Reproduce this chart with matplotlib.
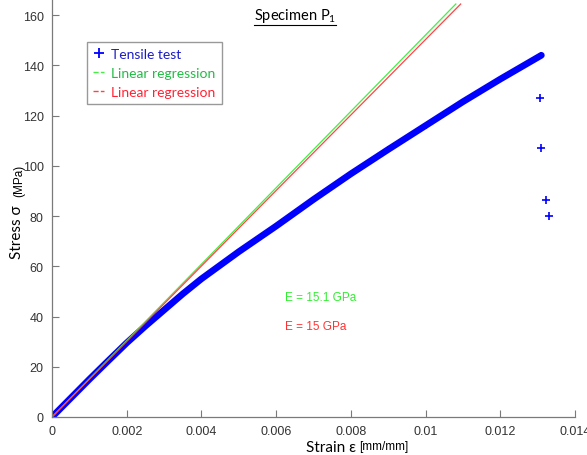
import matplotlib
matplotlib.use("Agg")
import matplotlib.pyplot as plt
from matplotlib.lines import Line2D

# tensile test curve (strain mm/mm, stress MPa)
strain = [0, 0.0005, 0.001, 0.0015, 0.002, 0.0025, 0.003, 0.0035, 0.004, 0.005,
          0.006, 0.007, 0.008, 0.009, 0.010, 0.011, 0.012, 0.0131]
stress = [0, 7.5, 15, 22.3, 29.5, 36.2, 42.6, 49, 55, 65.8,
          76, 86.6, 96.8, 106.5, 116, 125.5, 134.5, 144]
# points after failure
fail_strain = [0.01306, 0.01309, 0.01322, 0.01330]
fail_stress = [127, 107, 86.4, 80]

# linear regression lines (end points)
reg_green_x = [0, 0.01081]
reg_green_y = [0, 164.4]
reg_red_x = [0, 0.01094]
reg_red_y = [0, 164.4]

W, H = 587, 456
fig = plt.figure(figsize=(W / 100, H / 100), dpi=100)
ax = fig.add_axes([52 / W, 38 / H, 523 / W, 417 / H])

blue = "#0000ff"
green = "#44ee44"
red = "#ff4444"

ax.plot(strain, stress, color=blue, linewidth=4.8, solid_capstyle="round",
        solid_joinstyle="round", marker="+", markersize=4.5, markeredgewidth=1.1)
ax.plot(fail_strain, fail_stress, linestyle="none", color=blue, marker="+",
        markersize=6, markeredgewidth=1.2)
ax.plot(reg_green_x, reg_green_y, color=green, linewidth=0.9)
ax.plot(reg_red_x, reg_red_y, color=red, linewidth=0.9)

ax.set_xlim(0, 0.014)
ax.set_ylim(0, 166)
ax.set_xticks([0, 0.002, 0.004, 0.006, 0.008, 0.01, 0.012, 0.014])
ax.set_xticklabels(["0", "0.002", "0.004", "0.006", "0.008", "0.01", "0.012", "0.014"])
ax.set_yticks([0, 20, 40, 60, 80, 100, 120, 140, 160])

for s in ["top", "right"]:
    ax.spines[s].set_visible(False)
for s in ["left", "bottom"]:
    ax.spines[s].set_color("#7a7a7a")
    ax.spines[s].set_linewidth(0.9)
ax.tick_params(direction="in", length=5, width=0.8, color="#7a7a7a",
               labelsize=9, labelcolor="#333333", pad=6)
for lab in ax.get_xticklabels() + ax.get_yticklabels():
    lab.set_family("Liberation Sans")

# legend
handles = [
    Line2D([], [], linestyle="none", marker="+", color=blue, markersize=7, markeredgewidth=1.3),
    Line2D([], [], linestyle="--", color=green, linewidth=1),
    Line2D([], [], linestyle="--", color=red, linewidth=1),
]
labels = ["Tensile test", "Linear regression", "Linear regression"]
leg = ax.legend(handles, labels, loc="upper left", bbox_to_anchor=(0.067, 0.9),
                prop={"family": "Lato", "size": 10}, fancybox=False,
                handlelength=0.8, handletextpad=0.5, borderpad=0.45,
                labelspacing=0.5, borderaxespad=0)
leg.get_frame().set_edgecolor("#808080")
leg.get_frame().set_linewidth(1)
for t, c in zip(leg.get_texts(), ["#1c1cc8", "#22bb44", "#ff2233"]):
    t.set_color(c)

# modulus annotations
ax.text(0.00625, 47.8, "E = 15.1 GPa", color="#33ee33", fontsize=8.5,
        family="Liberation Sans", va="center")
ax.text(0.00625, 36.2, "E = 15 GPa", color="#ff3333", fontsize=8.5,
        family="Liberation Sans", va="center")

# title (underlined)
title = fig.text(295 / W, 1 - 16 / H, r"Specimen $\mathregular{P_1}$", ha="center",
                 va="center", family="Lato", fontsize=10.5, color="black")

# axis labels
fig.text(356 / W, 1 - 448 / H, "Strain \u03b5", ha="right", va="center",
         family="Lato", fontsize=11)
fig.text(359 / W, 1 - 447 / H, "[mm/mm]", ha="left", va="center",
         family="Liberation Sans", fontsize=8.5)
fig.text(17 / W, 1 - 232 / H, "Stress \u03c3", ha="center", va="center",
         rotation=90, family="Lato", fontsize=11)
fig.text(19 / W, 1 - 181 / H, "(MPa)", ha="center", va="center",
         rotation=90, family="Liberation Sans", fontsize=8.5)

fig.canvas.draw()
bb = title.get_window_extent()
fig.add_artist(Line2D([bb.x0 / W, bb.x1 / W], [(bb.y0 - 1) / H, (bb.y0 - 1) / H],
                      color="black", linewidth=0.8, transform=fig.transFigure))

fig.savefig("out.png", dpi=100)
